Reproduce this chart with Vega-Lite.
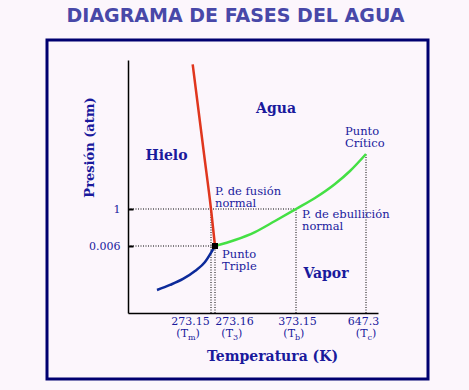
{
  "$schema": "https://vega.github.io/schema/vega-lite/v6.json",
  "width": 381,
  "height": 339,
  "autosize": {"type": "none"},
  "padding": {"left": 47, "top": 40, "right": 41, "bottom": 11},
  "background": "#fcf6fc",
  "title": {
    "text": "DIAGRAMA DE FASES DEL AGUA",
    "font": "DejaVu Sans",
    "fontSize": 19,
    "fontWeight": "bold",
    "color": "#4848a8",
    "anchor": "middle",
    "frame": "group",
    "baseline": "alphabetic",
    "offset": -1,
    "dx": -2
  },
  "config": {
    "view": {"stroke": "#000070", "strokeWidth": 3},
    "text": {"font": "DejaVu Serif", "color": "#1a1a9c"}
  },
  "datasets": {
    "ejes": [
      {"T": 273.15, "P": 0, "sub": "m"},
      {"T": 273.16, "P": 0, "sub": "3"},
      {"T": 373.15, "P": 0, "sub": "b"},
      {"T": 647.3, "P": 0, "sub": "c"}
    ]
  },
  "encoding": {
    "x": {
      "field": "T",
      "type": "quantitative",
      "scale": {
        "domain": [200, 273.15, 273.16, 373.15, 647.3, 700],
        "range": [81, 164, 168, 249, 319, 331],
        "nice": false,
        "zero": false
      },
      "axis": {
        "values": [273.15, 273.16, 373.15, 647.3],
        "labelExpr": "datum.value == 647.3 ? '647.3' : format(datum.value, '.2f')",
        "offset": -66,
        "grid": false,
        "ticks": false,
        "domainColor": "black",
        "domainWidth": 1.5,
        "labelFont": "DejaVu Serif",
        "labelFontSize": 11,
        "labelColor": "#1a1a9c",
        "labelPadding": 11,
        "labelBaseline": "alphabetic",
        "labelAngle": 0,
        "labelOverlap": false,
        "labelFlush": false,
        "labelOffset": {"expr": "datum.value == 273.15 ? -21 : datum.value == 273.16 ? 19 : datum.value == 373.15 ? 1 : -3"},
        "title": "Temperatura (K)",
        "titleFont": "DejaVu Serif",
        "titleFontSize": 14,
        "titleFontWeight": "bold",
        "titleColor": "#1a1a9c",
        "titleX": 225,
        "titleY": 47,
        "titleAlign": "center",
        "titleBaseline": "alphabetic"
      }
    },
    "y": {
      "field": "P",
      "type": "quantitative",
      "scale": {
        "domain": [0, 0.006, 1, 218, 1000],
        "range": [273, 206, 169, 114, 20],
        "nice": false,
        "zero": false
      },
      "axis": {
        "values": [0.006, 1],
        "labelExpr": "datum.value == 1 ? '1' : '0.006'",
        "offset": -81,
        "grid": false,
        "tickSize": -5,
        "tickWidth": 2,
        "tickColor": "black",
        "domainColor": "black",
        "domainWidth": 1.5,
        "labelFont": "DejaVu Serif",
        "labelFontSize": 11,
        "labelColor": "#1a1a9c",
        "labelPadding": 13,
        "labelOverlap": false,
        "title": "Presión (atm)",
        "titleFont": "DejaVu Serif",
        "titleFontSize": 13,
        "titleFontWeight": "bold",
        "titleColor": "#1a1a9c",
        "titleX": -35,
        "titleY": 107,
        "titleAlign": "center",
        "titleBaseline": "alphabetic"
      }
    }
  },
  "layer": [
    {
      "data": {"values": [
        {"T": 200, "T2": 373.15, "P": 1, "P2": 1},
        {"T": 200, "T2": 273.16, "P": 0.006, "P2": 0.006},
        {"T": 273.15, "T2": 273.15, "P": 0, "P2": 1},
        {"T": 273.16, "T2": 273.16, "P": 0, "P2": 0.006},
        {"T": 373.15, "T2": 373.15, "P": 0, "P2": 1},
        {"T": 647.3, "T2": 647.3, "P": 0, "P2": 218}
      ]},
      "mark": {"type": "rule", "color": "black", "strokeWidth": 1, "strokeDash": [1, 1.5]},
      "encoding": {"x2": {"field": "T2"}, "y2": {"field": "P2"}}
    },
    {
      "data": {"values": [
        {"fase": "fusión", "T": 257.0, "P": 964},
        {"fase": "fusión", "T": 267.0, "P": 218},
        {"fase": "fusión", "T": 273.15, "P": 1},
        {"fase": "fusión", "T": 273.16, "P": 0.006},
        {"fase": "sublimación", "T": 225.56, "P": 0.00206},
        {"fase": "sublimación", "T": 237.02, "P": 0.00251},
        {"fase": "sublimación", "T": 248.47, "P": 0.00305},
        {"fase": "sublimación", "T": 259.05, "P": 0.00376},
        {"fase": "sublimación", "T": 267.86, "P": 0.00457},
        {"fase": "sublimación", "T": 273.1525, "P": 0.00555},
        {"fase": "sublimación", "T": 273.16, "P": 0.006},
        {"fase": "vaporización", "T": 273.16, "P": 0.006},
        {"fase": "vaporización", "T": 297.85, "P": 0.167},
        {"fase": "vaporización", "T": 322.54, "P": 0.382},
        {"fase": "vaporización", "T": 347.23, "P": 0.678},
        {"fase": "vaporización", "T": 373.15, "P": 1},
        {"fase": "vaporización", "T": 447.56, "P": 44.4},
        {"fase": "vaporización", "T": 525.89, "P": 99.6},
        {"fase": "vaporización", "T": 584.64, "P": 150.9},
        {"fase": "vaporización", "T": 647.3, "P": 218}
      ]},
      "mark": {"type": "line", "interpolate": "monotone", "strokeWidth": 2.5},
      "encoding": {
        "color": {
          "field": "fase",
          "type": "nominal",
          "scale": {"domain": ["fusión", "sublimación", "vaporización"], "range": ["#e0361e", "#0c2a9a", "#44e044"]},
          "legend": null
        }
      }
    },
    {
      "data": {"values": [{"T": 273.16, "P": 0.006}]},
      "mark": {"type": "square", "filled": true, "color": "black", "size": 36, "opacity": 1}
    },
    {
      "data": {"values": [
        {"label": "Hielo", "T": 233.9, "P": 194.3},
        {"label": "Agua", "T": 348.5, "P": 559},
        {"label": "Vapor", "T": 490.6, "P": 0.00313}
      ]},
      "mark": {"type": "text", "fontSize": 14, "fontWeight": "bold", "align": "center", "baseline": "alphabetic"},
      "encoding": {"text": {"field": "label"}}
    },
    {
      "data": {"values": [
        {"label": "P. de fusión\nnormal", "T": 273.16, "P": 54.3},
        {"label": "P. de ebullición\nnormal", "T": 396.65, "P": 0.745},
        {"label": "Punto\nTriple", "T": 281.8, "P": 0.00493},
        {"label": "Punto\nCrítico", "T": 565.05, "P": 376}
      ]},
      "mark": {"type": "text", "fontSize": 11.5, "align": "left", "baseline": "alphabetic", "lineBreak": "\n", "lineHeight": 12},
      "encoding": {"text": {"field": "label"}}
    },
    {
      "data": {"name": "ejes"},
      "mark": {"type": "text", "fontSize": 11, "align": "right", "baseline": "alphabetic", "dy": 24,
        "dx": {"expr": "datum.T == 273.15 ? -23 : datum.T == 273.16 ? 18 : datum.T == 373.15 ? -1 : 1.5"}},
      "encoding": {"text": {"value": "(T"}}
    },
    {
      "data": {"name": "ejes"},
      "mark": {"type": "text", "fontSize": 8, "align": "left", "baseline": "alphabetic", "dy": 27,
        "dx": {"expr": "datum.T == 273.15 ? -23 : datum.T == 273.16 ? 18 : datum.T == 373.15 ? -1 : 1.5"}},
      "encoding": {"text": {"field": "sub"}}
    },
    {
      "data": {"name": "ejes"},
      "mark": {"type": "text", "fontSize": 11, "align": "left", "baseline": "alphabetic", "dy": 24,
        "dx": {"expr": "(datum.T == 273.15 ? -23 : datum.T == 273.16 ? 18 : datum.T == 373.15 ? -1 : 1.5) + (datum.sub == 'm' ? 7.6 : datum.sub == 'c' ? 4.5 : 5.1)"}},
      "encoding": {"text": {"value": ")"}}
    }
  ]
}
